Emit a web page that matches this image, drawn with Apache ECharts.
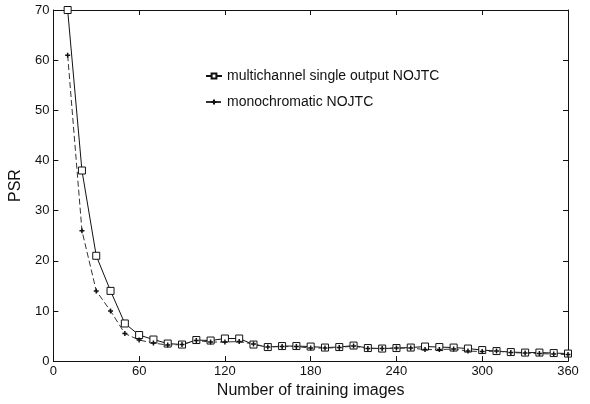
<!DOCTYPE html>
<html>
<head>
<meta charset="utf-8">
<script src="https://cdn.jsdelivr.net/npm/echarts@6/dist/echarts.min.js"></script>
<style>
  html, body { margin: 0; padding: 0; background: #fff; }
  #chart { width: 590px; height: 404px; }
</style>
</head>
<body>
<div id="chart"></div>
<script>
const trainingImages = [10, 20, 30, 40, 50, 60, 70, 80, 90, 100, 110, 120, 130, 140, 150, 160, 170, 180,
  190, 200, 210, 220, 230, 240, 250, 260, 270, 280, 290, 300, 310, 320, 330, 340, 350, 360]
const multichannel = [70, 38, 21, 14, 7.5, 5.2, 4.3, 3.5, 3.3, 4.2, 4.1, 4.5, 4.5, 3.3, 2.8, 3.0, 3.0, 2.9,
  2.7, 2.8, 3.1, 2.6, 2.5, 2.6, 2.7, 2.9, 2.8, 2.7, 2.5, 2.2, 2.0, 1.8, 1.7, 1.7, 1.6, 1.5]
const monochromatic = [61, 26, 14, 10, 5.5, 4.2, 3.6, 3.2, 3.3, 4.1, 3.8, 3.8, 3.9, 3.4, 2.8, 2.9, 2.9, 2.6,
  2.6, 2.7, 3.0, 2.5, 2.5, 2.6, 2.6, 2.3, 2.3, 2.4, 2.0, 1.9, 2.0, 1.7, 1.6, 1.5, 1.4, 1.3]
const seriesNames = ['multichannel single output NOJTC', 'monochromatic NOJTC']

const chart = echarts.init(document.getElementById('chart'))
const font = 'Liberation Sans, Arial, sans-serif'
const ink = '#111'

const plusPath = 'path://M0,5L10,5M5,0L5,10'

const baseAxis = {
  axisLine: { show: true, onZero: false, lineStyle: { color: ink, width: 1 } },
  axisTick: { show: true, inside: true, length: 5, lineStyle: { color: ink } },
  splitLine: { show: false }
}

chart.setOption({
  animation: false,
  backgroundColor: '#fff',
  grid: { left: 52, right: 22, top: 10, bottom: 40 },
  legend: {
    left: 200,
    top: 64,
    orient: 'vertical',
    itemGap: 12,
    itemWidth: 16,
    itemHeight: 6,
    textStyle: { fontFamily: font, fontSize: 14, color: ink },
    data: seriesNames
  },
  xAxis: [
    {
      ...baseAxis,
      type: 'value',
      min: 0, max: 360, interval: 60,
      name: 'Number of training images',
      nameLocation: 'middle',
      nameGap: 21,
      nameTextStyle: { fontFamily: font, fontSize: 16, color: ink },
      axisLabel: { fontFamily: font, fontSize: 13, color: ink, margin: 4 }
    },
    {
      ...baseAxis,
      type: 'value', position: 'top',
      min: 0, max: 360, interval: 60,
      axisLabel: { show: false }
    }
  ],
  yAxis: [
    {
      ...baseAxis,
      type: 'value',
      min: 0, max: 70, interval: 10,
      name: 'PSR',
      nameLocation: 'middle',
      nameGap: 28,
      nameTextStyle: { fontFamily: font, fontSize: 16, color: ink },
      axisLabel: { fontFamily: font, fontSize: 13, color: ink, margin: 4 }
    },
    {
      ...baseAxis,
      type: 'value', position: 'right',
      min: 0, max: 70, interval: 10,
      axisLabel: { show: false }
    }
  ],
  series: [
    {
      name: seriesNames[0],
      type: 'line',
      data: trainingImages.map((x, i) => [x, multichannel[i]]),
      symbol: 'rect',
      symbolSize: 7,
      itemStyle: { color: '#fff', borderColor: ink, borderWidth: 1 },
      lineStyle: { color: ink, width: 1 }
    },
    {
      name: seriesNames[1],
      type: 'line',
      data: trainingImages.map((x, i) => [x, monochromatic[i]]),
      symbol: plusPath,
      symbolSize: 5,
      itemStyle: { color: ink, borderColor: ink, borderWidth: 1.5 },
      lineStyle: { color: '#333', width: 1, type: [6, 3] }
    }
  ]
})
</script>
</body>
</html>
